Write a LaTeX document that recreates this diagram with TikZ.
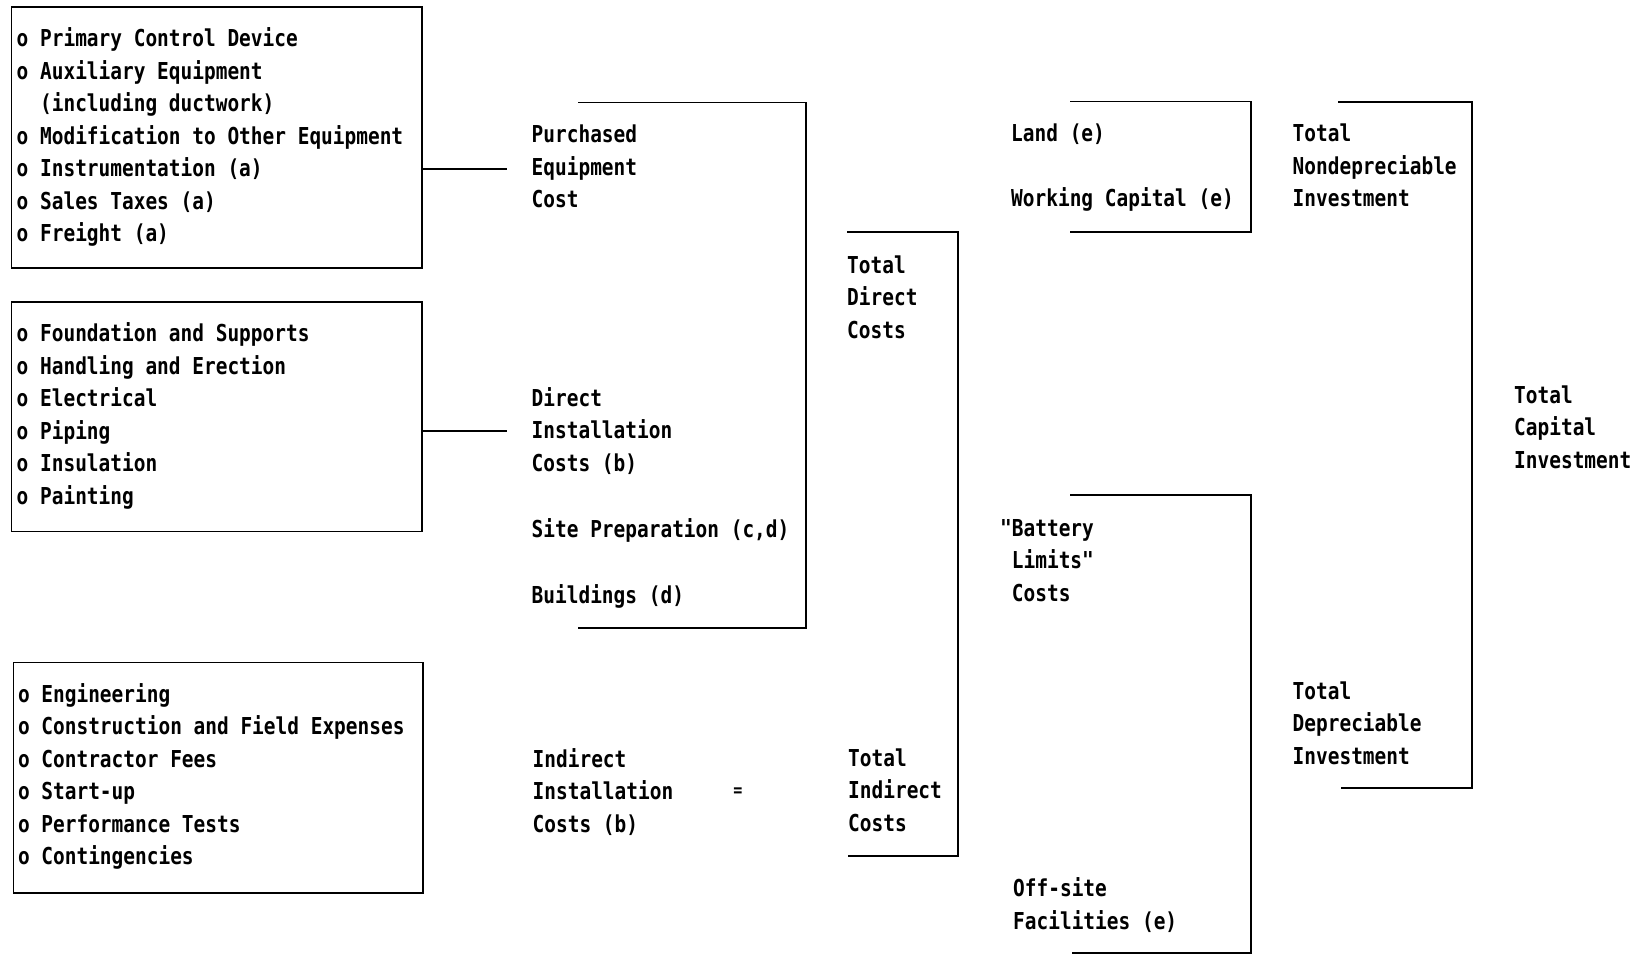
\documentclass[tikz,border=0pt]{standalone}
\usepackage{fontspec}
\newfontfamily\monob{DejaVu Sans Mono Bold}[FakeStretch=0.835,Ligatures=TeXOff]
\begin{document}
\begin{tikzpicture}[x=1pt,y=-1pt,
  txt/.style={font=\monob\fontsize{23.3pt}{32.5pt}\selectfont},
  lbl/.style={txt, align=left, anchor=base west, inner sep=0pt},
  listbox/.style={draw, line width=1.8pt, anchor=north west, inner sep=0pt},
  ln/.style={line width=1.8pt, line join=miter}]
\useasboundingbox (0,0) rectangle (1641,955);
% left boxes
\node[listbox, minimum width=410.5pt, minimum height=260.7pt] (b1) at (10.5,6.3) {};
\node[listbox, minimum width=410.5pt, minimum height=229.2pt] (b2) at (10.5,301.4) {};
\node[listbox, minimum width=409.2pt, minimum height=230.2pt] (b3) at (12.6,661.5) {};
% box contents (anchor = baseline of last line)
\node[lbl] (l1) at (16.5,241.5)
  {o Primary Control Device\\o Auxiliary Equipment\\\hphantom{oo}(including ductwork)\\o Modification to Other Equipment\\o Instrumentation (a)\\o Sales Taxes (a)\\o Freight (a)};
\node[lbl] (l2) at (16.5,504)
  {o Foundation and Supports\\o Handling and Erection\\o Electrical\\o Piping\\o Insulation\\o Painting};
\node[lbl] (l3) at (17.8,864.5)
  {o Engineering\\o Construction and Field Expenses\\o Contractor Fees\\o Start-up\\o Performance Tests\\o Contingencies};
% middle labels (anchor = baseline of last line)
\node[lbl] (pec) at (531.5,207.5) {Purchased\\Equipment\\Cost};
\node[lbl] (dic) at (531.5,471.2) {Direct\\Installation\\Costs (b)};
\node[lbl] (site) at (531.5,537) {Site Preparation (c,d)};
\node[lbl] (bldg) at (531.5,603) {Buildings (d)};
\node[lbl] (iic) at (532.5,832.3) {Indirect\\Installation\\Costs (b)};
\node[font=\monob\fontsize{18pt}{18pt}\selectfont, inner sep=0pt] (eq) at (738,792) {=};
\node[lbl] (tdc) at (847,338.3) {Total\\Direct\\Costs};
\node[lbl] (tic) at (848,831.2) {Total\\Indirect\\Costs};
\node[lbl] (land) at (1011,141.5) {Land (e)};
\node[lbl] (wc) at (1011,206.3) {Working Capital (e)};
\node[lbl] (tni) at (1292.5,206.5) {Total\\Nondepreciable\\Investment};
\node[lbl] (blc) at (1000,601) {"Battery\\\hphantom{"}Limits"\\\hphantom{"}Costs};
\node[lbl] (osf) at (1013,929) {Off-site\\Facilities (e)};
\node[lbl] (tdi) at (1292.5,764.3) {Total\\Depreciable\\Investment};
\node[lbl] (tci) at (1514,468.1) {Total\\Capital\\Investment};
% connectors
\coordinate (c1) at (507,169);
\coordinate (c2) at (507,431);
\draw[ln] (b1.east |- c1) -- (c1);
\draw[ln] (b2.east |- c2) -- (c2);
% brackets
\draw[ln] (578,102.5) -- (806,102.5) -- (806,628) -- (578,628);
\draw[ln] (847,232.3) -- (958,232.3) -- (958,856) -- (848,856);
\draw[ln] (1070,101.5) -- (1251,101.5) -- (1251,232) -- (1070,232);
\draw[ln] (1070,495) -- (1251,495) -- (1251,953) -- (1072,953);
\draw[ln] (1338,101.7) -- (1472,101.7) -- (1472,788) -- (1341,788);
\end{tikzpicture}
\end{document}
